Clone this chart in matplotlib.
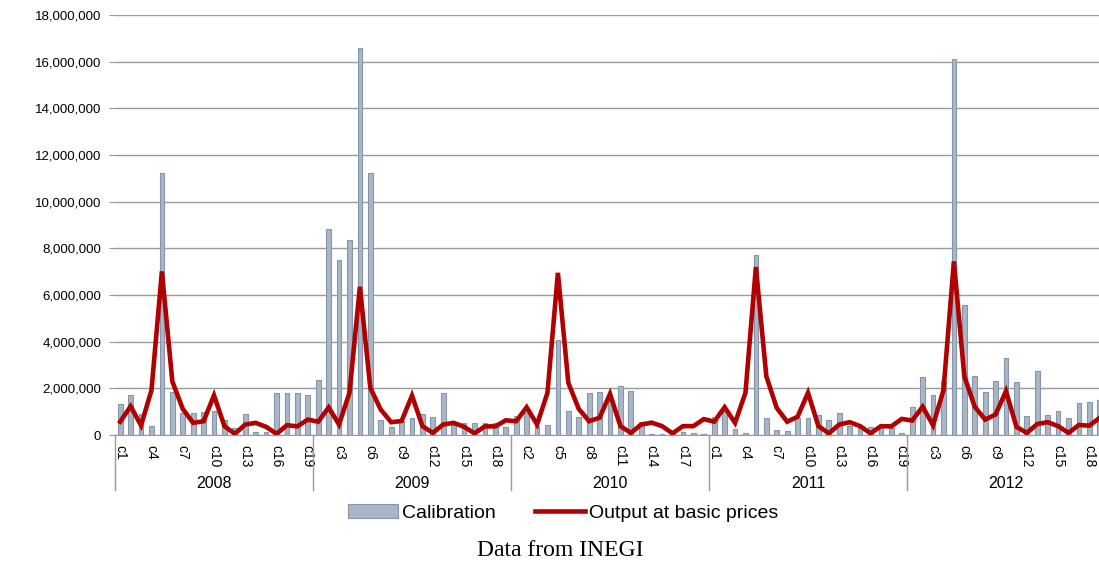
import matplotlib.pyplot as plt
import matplotlib.transforms as mtransforms
import numpy as np

years = ['2008', '2009', '2010', '2011', '2012']
categories = ['c%d' % i for i in range(1, 20)]

# Calibration bars, one list per year (c1..c19)
calib_2008 = [1.32, 1.70, 0.88, 0.39, 11.23, 1.86, 0.95, 0.93, 0.99, 1.05,
              0.66, 0.28, 0.88, 0.14, 0.14, 1.79, 1.79, 1.82, 1.72]
calib_2009 = [2.37, 8.81, 7.49, 8.34, 16.58, 11.21, 0.66, 0.35, 0.60, 0.71,
              0.88, 0.79, 1.81, 0.45, 0.51, 0.53, 0.50, 0.53, 0.36]
calib_2010 = [0.81, 0.95, 0.40, 0.45, 4.08, 1.04, 0.79, 1.78, 1.85, 1.50,
              2.11, 1.89, 0.55, 0.06, 0.06, 0.05, 0.11, 0.07, 0.03]
calib_2011 = [0.78, 0.98, 0.24, 0.07, 7.70, 0.74, 0.21, 0.18, 0.71, 0.73,
              0.87, 0.66, 0.96, 0.37, 0.30, 0.36, 0.30, 0.30, 0.07]
calib_2012 = [1.21, 2.49, 1.73, 2.30, 16.13, 5.58, 2.55, 1.86, 2.32, 3.31,
              2.28, 0.81, 2.75, 0.87, 1.05, 0.75, 1.38, 1.41, 1.48]

# Output at basic prices (line)
output_2008 = [0.57, 1.23, 0.41, 1.92, 7.01, 2.30, 1.12, 0.52, 0.59, 1.70,
               0.38, 0.05, 0.45, 0.52, 0.35, 0.05, 0.42, 0.37, 0.66]
output_2009 = [0.57, 1.18, 0.45, 1.81, 6.35, 2.02, 1.09, 0.55, 0.60, 1.69,
               0.38, 0.09, 0.45, 0.52, 0.35, 0.07, 0.37, 0.37, 0.63]
output_2010 = [0.59, 1.19, 0.45, 1.81, 6.95, 2.24, 1.12, 0.59, 0.74, 1.76,
               0.38, 0.09, 0.45, 0.53, 0.38, 0.07, 0.38, 0.38, 0.68]
output_2011 = [0.57, 1.19, 0.52, 1.81, 7.20, 2.52, 1.16, 0.57, 0.78, 1.81,
               0.38, 0.07, 0.45, 0.55, 0.38, 0.07, 0.38, 0.37, 0.69]
output_2012 = [0.62, 1.21, 0.42, 1.92, 7.44, 2.52, 1.21, 0.66, 0.88, 1.88,
               0.35, 0.09, 0.47, 0.55, 0.38, 0.09, 0.43, 0.40, 0.74]

calib = np.concatenate([calib_2008, calib_2009, calib_2010, calib_2011, calib_2012]) * 1e6
output = np.concatenate([output_2008, output_2009, output_2010, output_2011, output_2012]) * 1e6
n = len(calib)
x = np.arange(n)
ncat = len(categories)

plt.rcParams['font.family'] = ['Liberation Sans', 'DejaVu Sans']

fig = plt.figure(figsize=(10.99, 5.65), dpi=100)
ax = fig.add_axes([115 / 1099, 130 / 565, 990 / 1099, 420 / 565])

bars = ax.bar(x, calib, width=0.45, color='#a9b6c6', edgecolor='#8596ac',
              linewidth=0.8, label='Calibration', zorder=2)
line, = ax.plot(x, output, color='#b00000', linewidth=3.3, solid_joinstyle='miter',
                label='Output at basic prices', zorder=3)

ax.set_xlim(-0.5, n - 0.5)
ax.set_ylim(0, 18e6)
ax.set_yticks(np.arange(0, 18e6 + 1, 2e6))
ax.yaxis.set_major_formatter(plt.FuncFormatter(lambda v, p: '{:,.0f}'.format(v)))
ax.grid(axis='y', color='#9a9a9a', linewidth=1.0, zorder=0)
ax.set_axisbelow(True)
ax.tick_params(axis='y', length=4, color='#9a9a9a', labelsize=9.5, pad=6)

tick_pos = x[::3]
ax.set_xticks(tick_pos)
ax.set_xticklabels([categories[i % ncat] for i in tick_pos], rotation=270,
                   va='top', ha='center', fontsize=10)
ax.tick_params(axis='x', length=0, pad=7)

for s in ['top', 'right', 'left']:
    ax.spines[s].set_visible(False)
ax.spines['bottom'].set_color('#9a9a9a')

# year group separators and labels
trans = mtransforms.blended_transform_factory(ax.transData, ax.transAxes)
for k, yr in enumerate(years):
    xs = k * ncat - 0.5
    ax.plot([xs, xs], [0, -55 / 420], color='#9a9a9a', linewidth=1.0,
            transform=trans, clip_on=False)
    ax.text(xs + ncat / 2, -48 / 420, yr, transform=trans, ha='center',
            va='center', fontsize=11.5)

fig.legend([bars, line], ['Calibration', 'Output at basic prices'], loc='center',
           bbox_to_anchor=(563 / 1099, 1 - 513 / 565), ncol=2,
           frameon=False, fontsize=14, handlelength=2.6, handletextpad=0.2,
           columnspacing=2.0)

fig.text(560 / 1099, 1 - 550 / 565, 'Data from INEGI', ha='center', va='center',
         fontsize=17, family=['Liberation Serif', 'DejaVu Serif'])

plt.savefig('out.png', dpi=100)
